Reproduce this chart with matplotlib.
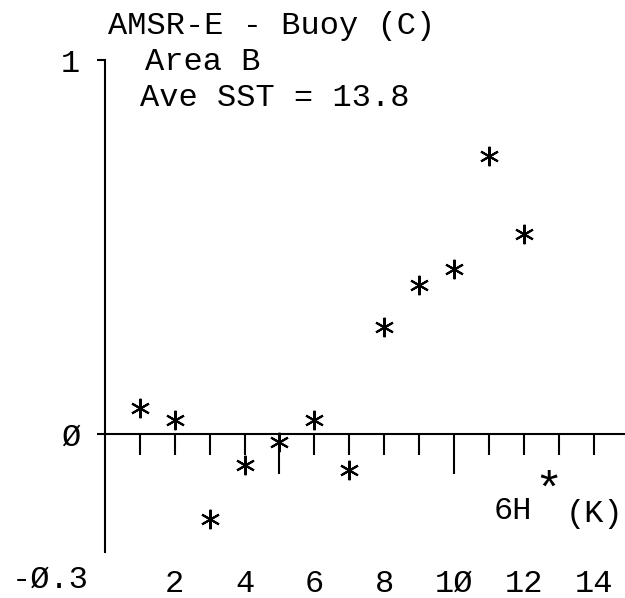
import matplotlib.pyplot as plt
from matplotlib.ticker import FixedLocator

# Data
channel = [1, 2, 3, 4, 5, 6, 7, 8, 9, 10, 11, 12]
diff = [0.069, 0.036, -0.228, -0.083, -0.022, 0.036, -0.098,
        0.287, 0.397, 0.441, 0.744, 0.535]
xlabel_pos = [2, 4, 6, 8, 10, 12, 14]
xlabel_txt = ["2", "4", "6", "8", "1Ø", "12", "14"]

plt.rcParams['font.family'] = ['Liberation Mono', 'DejaVu Sans Mono']
FS = 23

W, H = 625, 598
fig = plt.figure(figsize=(W / 100, H / 100), dpi=100)
ax = fig.add_axes([105 / W, 1 - 552 / H, 520 / W, 492 / H])
ax.set_xlim(0, 14.9)
ax.set_ylim(-0.316, 1.0)

# points
ax.plot(channel, diff, linestyle="none", marker=(6, 2, 0),
        markersize=14, markeredgewidth=1.5, color="black", clip_on=False)

# axes styling
for s in ["top", "right"]:
    ax.spines[s].set_visible(False)
ax.spines["bottom"].set_position(("data", 0))
ax.spines["bottom"].set_linewidth(1.5)
ax.spines["left"].set_linewidth(1.5)

ax.xaxis.set_major_locator(FixedLocator([5, 10]))
ax.xaxis.set_minor_locator(FixedLocator([i for i in range(1, 15) if i not in (5, 10)]))
ax.tick_params(axis="x", which="major", direction="out", length=29, width=1.5,
               labelbottom=False)
ax.tick_params(axis="x", which="minor", direction="out", length=15, width=1.5)

ax.set_yticks([0, 1])
ax.set_yticklabels(["Ø", "1"])
ax.tick_params(axis="y", direction="out", length=6, width=1.5, pad=12,
               labelsize=FS)
ax.text(-1.58, -0.39, "-Ø.3", fontsize=FS, ha="center", va="center",
        clip_on=False)

# bottom labels
for p, t in zip(xlabel_pos, xlabel_txt):
    ax.text(p, -0.402, t, fontsize=FS, ha="center", va="center", clip_on=False)

# titles / annotations
fig.text(108 / W, 1 - 26 / H, "AMSR-E - Buoy (C)", fontsize=FS, ha="left", va="center")
fig.text(145 / W, 1 - 62 / H, "Area B", fontsize=FS, ha="left", va="center")
fig.text(140 / W, 1 - 98 / H, "Ave SST = 13.8", fontsize=FS, ha="left", va="center")
fig.text(494 / W, 1 - 511 / H, "6H", fontsize=FS, ha="left", va="center")
fig.text(548 / W, 1 - 492 / H, "*", fontsize=34, ha="center", va="center")
fig.text(566 / W, 1 - 514 / H, "(K)", fontsize=FS, ha="left", va="center")

fig.savefig("out.png", dpi=100)
